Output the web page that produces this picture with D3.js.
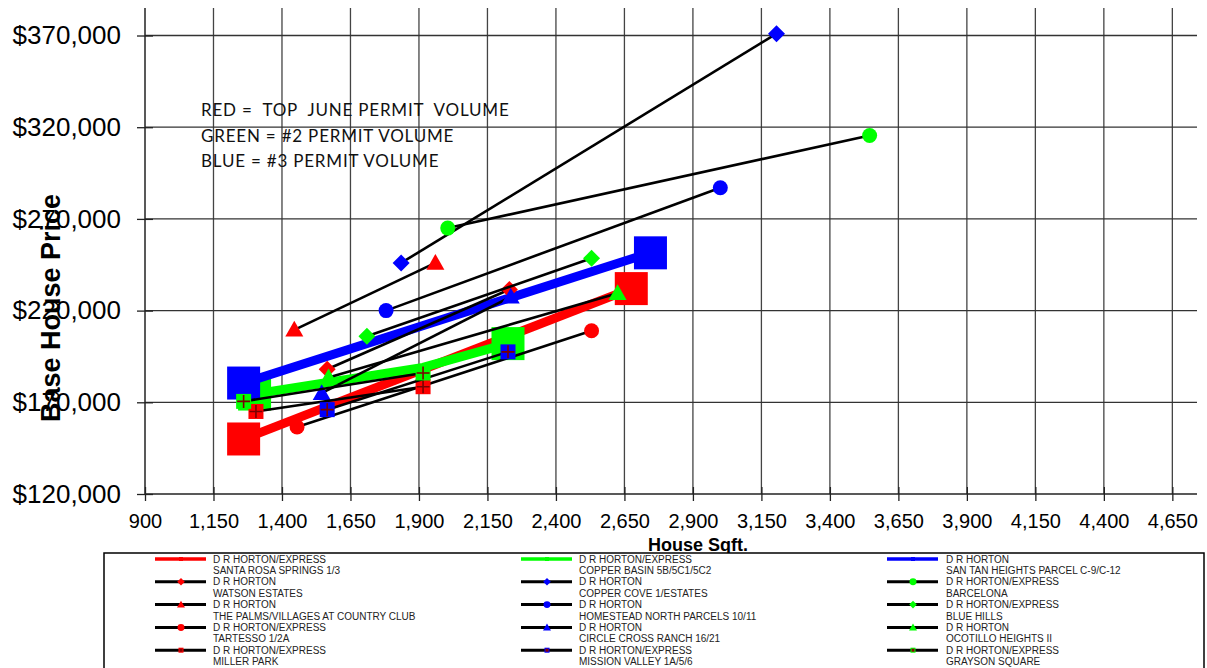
<!DOCTYPE html>
<html><head><meta charset="utf-8">
<script src="https://cdn.jsdelivr.net/npm/d3@7/dist/d3.min.js"></script>
<style>body{margin:0;background:#fff}svg{display:block}</style>
</head><body>
<svg id="c" width="1207" height="668"></svg>
<script>
// ---------- DATA ----------
const builders = ["D R HORTON/EXPRESS","D R HORTON/EXPRESS","D R HORTON","D R HORTON","D R HORTON","D R HORTON/EXPRESS","D R HORTON","D R HORTON","D R HORTON/EXPRESS","D R HORTON/EXPRESS","D R HORTON","D R HORTON","D R HORTON/EXPRESS","D R HORTON/EXPRESS","D R HORTON/EXPRESS"];
const communities = ["SANTA ROSA SPRINGS 1/3","COPPER BASIN 5B/5C1/5C2","SAN TAN HEIGHTS PARCEL C-9/C-12","WATSON ESTATES","COPPER COVE 1/ESTATES","BARCELONA","THE PALMS/VILLAGES AT COUNTRY CLUB","HOMESTEAD NORTH PARCELS 10/11","BLUE HILLS","TARTESSO 1/2A","CIRCLE CROSS RANCH 16/21","OCOTILLO HEIGHTS II","MILLER PARK","MISSION VALLEY 1A/5/6","GRAYSON SQUARE"];
const sqft = [
  [1260, 2675],
  [1300, 1915, 2225],
  [1260, 2745],
  [1565, 2230],
  [1835, 3205],
  [2005, 3545],
  [1445, 1960],
  [1780, 3000],
  [1710, 2530],
  [1455, 2530],
  [1545, 2235],
  [1570, 2625],
  [1305, 1915],
  [1565, 2225],
  [1260, 1915]
];
const prices = [
  [150000, 232000],
  [174500, 189000, 202000],
  [180500, 251500],
  [188000, 231500],
  [246000, 371000],
  [265000, 315500],
  [209500, 246000],
  [220000, 287000],
  [206000, 248500],
  [156500, 209000],
  [175000, 227500],
  [183500, 229500],
  [165000, 178500],
  [166000, 197500],
  [170500, 186000]
];
const xTicks = [900,1150,1400,1650,1900,2150,2400,2650,2900,3150,3400,3650,3900,4150,4400,4650];
const yTicks = [120000,170000,220000,270000,320000,370000];
const notes = ["RED =  TOP  JUNE PERMIT  VOLUME","GREEN = #2 PERMIT VOLUME","BLUE = #3 PERMIT VOLUME"];
const xTitle = "House Sqft.";
const yTitle = "Base House Price";

// ---------- STYLE ----------
const markerColor = ["#ff0000","#00ff00","#0000ff","#ff0000","#0000ff","#00ff00","#ff0000","#0000ff","#00ff00","#ff0000","#0000ff","#00ff00","#ff0000","#0000ff","#00ff00"];
const lineColor = ["#ff0000","#00ff00","#0000ff"].concat(Array(12).fill("#000"));
const markerShape = ["bigsq","bigsq","bigsq","diamond","diamond","circle","triangle","circle","diamond","circle","triangle","triangle","xsq","xsq","xsq"];

const svg = d3.select("#c");
const x = d3.scaleLinear().domain([900, 4740]).range([145, 1197]);
const y = d3.scaleLinear().domain([120000, 385000]).range([494, 8]);

// gridlines
const g = svg.append("g");
g.selectAll(".vg").data(xTicks.slice(1)).join("line")
  .attr("x1", d => x(d)).attr("x2", d => x(d)).attr("y1", 8).attr("y2", 494)
  .attr("stroke", "#444").attr("stroke-width", 1.3);
g.selectAll(".hg").data(yTicks.slice(1)).join("line")
  .attr("x1", 145).attr("x2", 1197).attr("y1", d => y(d)).attr("y2", d => y(d))
  .attr("stroke", "#333").attr("stroke-width", 1.3);

// axes
const xAxis = d3.axisBottom(x).tickValues(xTicks).tickSize(7).tickFormat(d3.format(","));
const xa = svg.append("g").attr("transform", "translate(0,494)").call(xAxis);
xa.select(".domain").attr("d", "M145,0H1197").attr("stroke", "#222").attr("stroke-width", 1.5);
xa.selectAll(".tick line").attr("y1", -7).attr("stroke", "#222").attr("stroke-width", 1.3);
xa.selectAll(".tick text").attr("y", 20).attr("dy", "0.71em")
  .style("font-family", "Arial, 'Liberation Sans', sans-serif").style("font-size", "20px").attr("fill", "#000");

const yAxis = d3.axisLeft(y).tickValues(yTicks).tickSize(8).tickFormat(d => "$" + d3.format(",")(d));
const ya = svg.append("g").attr("transform", "translate(145,0)").call(yAxis);
ya.select(".domain").attr("d", "M0,8V494").attr("stroke", "#222").attr("stroke-width", 1.5);
ya.selectAll(".tick line").attr("x2", 8).attr("x1", -8).attr("stroke", "#222").attr("stroke-width", 1.3);
ya.selectAll(".tick text").attr("x", -24)
  .style("font-family", "Arial, 'Liberation Sans', sans-serif").style("font-size", "26px").attr("fill", "#000");

// series
const line = d3.line().x(d => x(d[0])).y(d => y(d[1]));
function drawMarker(sel, shape, color, px, py, small) {
  const k = small ? 0.33 : 1;
  if (shape === "bigsq") {
    const s = (small ? 5 : 33);
    sel.append("rect").attr("x", px - s/2).attr("y", py - s/2).attr("width", s).attr("height", s).attr("fill", color);
  } else if (shape === "circle") {
    sel.append("circle").attr("cx", px).attr("cy", py).attr("r", 7.5*k + (small?1:0)).attr("fill", color);
  } else if (shape === "diamond") {
    const r = 8.5*k + (small?1:0);
    sel.append("path").attr("d", `M${px},${py-r}L${px+r},${py}L${px},${py+r}L${px-r},${py}Z`).attr("fill", color);
  } else if (shape === "triangle") {
    const r = 9*k + (small?1:0);
    sel.append("path").attr("d", `M${px},${py-r}L${px+r},${py+r*0.75}L${px-r},${py+r*0.75}Z`).attr("fill", color);
  } else if (shape === "xsq") {
    const s = small ? 5 : 15;
    sel.append("rect").attr("x", px - s/2).attr("y", py - s/2).attr("width", s).attr("height", s).attr("fill", color);
    if (!small) {
      sel.append("path").attr("d", `M${px-s/2+1},${py}H${px+s/2-1}M${px},${py-s/2+1}V${py+s/2-1}`)
        .attr("stroke", "#7a0000").attr("stroke-width", 1.6);
    } else {
      sel.append("rect").attr("x", px-1.5).attr("y", py-1.5).attr("width", 3).attr("height", 3).attr("fill", "#8b0000");
    }
  }
}
const sg = svg.append("g");
sqft.forEach((xs, i) => {
  const pts = xs.map((v, j) => [v, prices[i][j]]);
  const gg = sg.append("g");
  gg.append("path").attr("d", line(pts)).attr("fill", "none")
    .attr("stroke", lineColor[i]).attr("stroke-width", i < 3 ? 9 : 2.6).attr("stroke-linejoin", "round");
  [pts[0], pts[pts.length - 1]].forEach(p => drawMarker(gg, markerShape[i], markerColor[i], x(p[0]), y(p[1]), false));
});

// annotation
svg.append("g").selectAll("text").data(notes).join("text")
  .attr("x", 201).attr("y", (d, i) => 116 + i * 25.5)
  .attr("xml:space", "preserve").style("white-space", "pre")
  .style("font-family", "Lato, 'Open Sans', sans-serif").style("font-size", "17px")
  .style("letter-spacing", "0.8px").attr("fill", "#111")
  .text(d => d);

// axis titles
svg.append("text").attr("transform", "translate(60,308) rotate(-90)").attr("text-anchor", "middle")
  .style("font-family", "Arial, 'Liberation Sans', sans-serif").style("font-size", "27px").style("font-weight", "bold")
  .text(yTitle);
svg.append("text").attr("x", 698).attr("y", 551).attr("text-anchor", "middle")
  .style("font-family", "Arial, 'Liberation Sans', sans-serif").style("font-size", "18px").style("font-weight", "bold")
  .text(xTitle);

// legend
const lg = svg.append("g");
lg.append("rect").attr("x", 104).attr("y", 553).attr("width", 1100).attr("height", 120)
  .attr("fill", "#fff").attr("stroke", "#000").attr("stroke-width", 1.5);
const colLine = [155, 521, 887];
const colText = [213, 579, 946];
communities.forEach((name, i) => {
  const col = i % 3, row = Math.floor(i / 3);
  const cy = 559 + row * 22.8;
  const e = lg.append("g");
  e.append("line").attr("x1", colLine[col]).attr("x2", colLine[col] + 51).attr("y1", cy).attr("y2", cy)
    .attr("stroke", lineColor[i]).attr("stroke-width", i < 3 ? 3.5 : 3);
  const mx = colLine[col] + 26;
  if (i < 3) {
    e.append("rect").attr("x", mx - 2).attr("y", cy - 2).attr("width", 4).attr("height", 4).attr("fill", markerColor[i]);
  } else {
    drawMarker(e, markerShape[i], markerColor[i], mx, cy, true);
  }
  e.append("text").attr("x", colText[col]).attr("y", cy + 3.5)
    .style("font-family", "Arial, 'Liberation Sans', sans-serif").style("font-size", "10px").attr("fill", "#222")
    .text(builders[i]);
  e.append("text").attr("x", colText[col]).attr("y", cy + 15)
    .style("font-family", "Arial, 'Liberation Sans', sans-serif").style("font-size", "10px").attr("fill", "#222")
    .text(name);
});
</script>
</body></html>
